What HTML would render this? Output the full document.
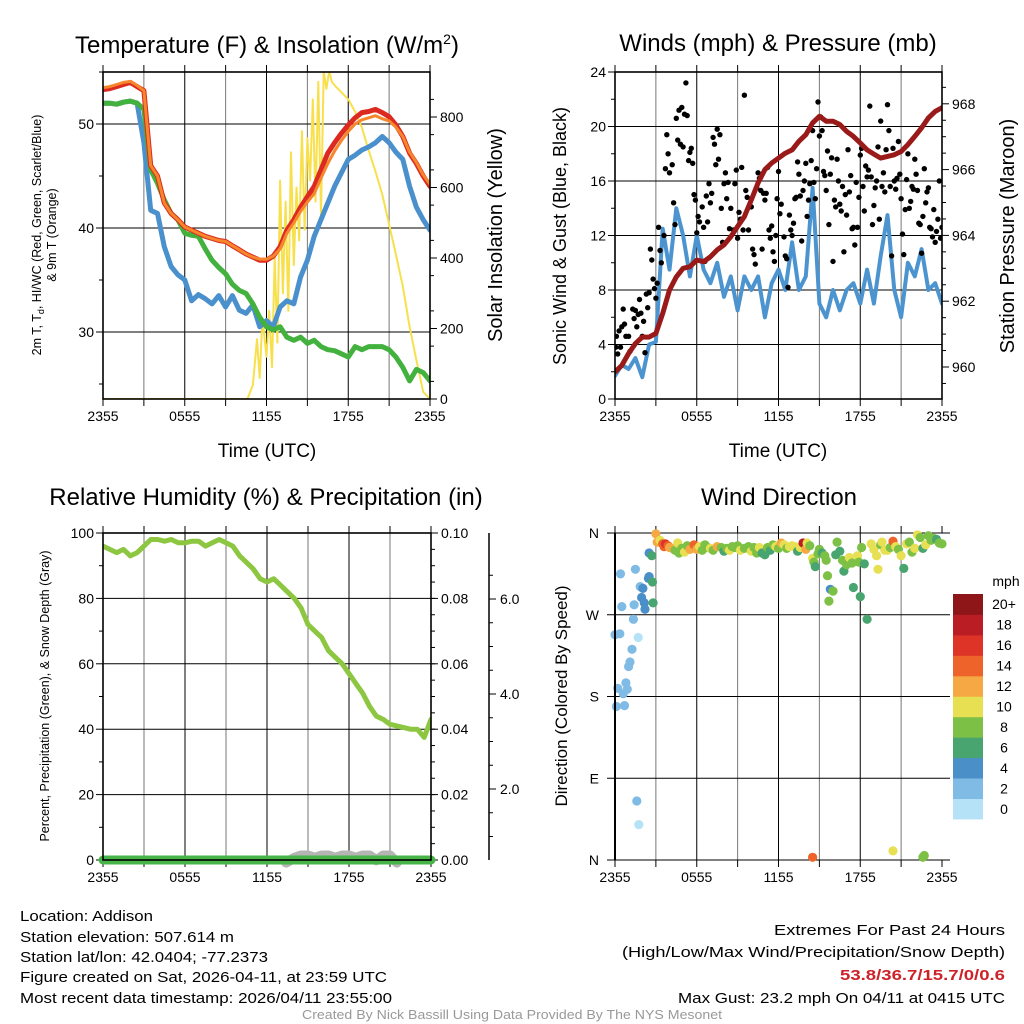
<!DOCTYPE html>
<html><head><meta charset="utf-8"><style>
html,body{margin:0;padding:0;background:#fff;}
svg{display:block;font-family:"Liberation Sans",sans-serif;}
</style></head><body>
<svg id="fig" width="1024" height="1024" viewBox="0 0 1024 1024" xmlns="http://www.w3.org/2000/svg">
<defs>
<clipPath id="c1"><rect x="103" y="72" width="327" height="327"/></clipPath>
<clipPath id="c2"><rect x="615" y="72" width="327" height="327"/></clipPath>
<clipPath id="c3"><rect x="103" y="533" width="328" height="327"/></clipPath>
<clipPath id="c3b"><rect x="95" y="533" width="345" height="335"/></clipPath>
<clipPath id="c4"><rect x="609" y="527" width="339" height="339"/></clipPath>
</defs>
<g id="p1"></g>
<g id="p2"></g>
<g id="p3"></g>
<g id="p4"></g>

<text x="267" y="53" font-size="24" text-anchor="middle">Temperature (F) &amp; Insolation (W/m<tspan font-size="14" dy="-9">2</tspan><tspan dy="9">)</tspan></text>
<text x="778" y="51" font-size="24" text-anchor="middle">Winds (mph) &amp; Pressure (mb)</text>
<text x="266" y="505" font-size="24" text-anchor="middle">Relative Humidity (%) &amp; Precipitation (in)</text>
<text x="779" y="505" font-size="24" text-anchor="middle">Wind Direction</text>

<text x="267" y="457" font-size="19" text-anchor="middle">Time (UTC)</text>
<text x="778" y="457" font-size="19" text-anchor="middle">Time (UTC)</text>

<text transform="translate(41,235) rotate(-90)" font-size="12.5" text-anchor="middle">2m T, T<tspan font-size="9" dy="3">d</tspan><tspan dy="-3">, HI/WC (Red, Green, Scarlet/Blue)</tspan></text>
<text transform="translate(56,235) rotate(-90)" font-size="12.5" text-anchor="middle">&amp; 9m T (Orange)</text>
<text transform="translate(502,235) rotate(-90)" font-size="20" text-anchor="middle">Solar Insolation (Yellow)</text>
<text transform="translate(566,236) rotate(-90)" font-size="18" text-anchor="middle">Sonic Wind &amp; Gust (Blue, Black)</text>
<text transform="translate(1014,236) rotate(-90)" font-size="20" text-anchor="middle">Station Pressure (Maroon)</text>
<text transform="translate(49,696) rotate(-90)" font-size="12.5" text-anchor="middle">Percent, Precipitation (Green), &amp; Snow Depth (Gray)</text>
<text transform="translate(567,696) rotate(-90)" font-size="17" text-anchor="middle">Direction (Colored By Speed)</text>

<g font-size="15">
<text x="20" y="921" textLength="133" lengthAdjust="spacingAndGlyphs">Location: Addison</text>
<text x="20" y="942" textLength="214" lengthAdjust="spacingAndGlyphs">Station elevation: 507.614 m</text>
<text x="20" y="962" textLength="248" lengthAdjust="spacingAndGlyphs">Station lat/lon: 42.0404; -77.2373</text>
<text x="20" y="982" textLength="367" lengthAdjust="spacingAndGlyphs">Figure created on Sat, 2026-04-11, at 23:59 UTC</text>
<text x="20" y="1003" textLength="372" lengthAdjust="spacingAndGlyphs">Most recent data timestamp: 2026/04/11 23:55:00</text>
</g>
<g font-size="15">
<text x="774" y="935" textLength="231" lengthAdjust="spacingAndGlyphs">Extremes For Past 24 Hours</text>
<text x="622" y="957" textLength="383" lengthAdjust="spacingAndGlyphs">(High/Low/Max Wind/Precipitation/Snow Depth)</text>
<text x="840" y="980" textLength="165" lengthAdjust="spacingAndGlyphs" font-weight="bold" fill="#cc2229">53.8/36.7/15.7/0/0.6</text>
<text x="678" y="1003" textLength="327" lengthAdjust="spacingAndGlyphs">Max Gust: 23.2 mph On 04/11 at 0415 UTC</text>
</g>
<text x="302" y="1019" font-size="13" fill="#999" textLength="420" lengthAdjust="spacingAndGlyphs">Created By Nick Bassill Using Data Provided By The NYS Mesonet</text>
</svg>
<script>
// ---------- data ----------
const hours = [];
for (let i = 0; i <= 48; i++) hours.push(i * 0.5);
const xTickLabels = ["2355","0555","1155","1755","2355"];
const tempRed = [53.3,53.4,53.6,53.8,54.0,53.6,53.2,46.0,45.0,42.4,41.4,40.8,40.1,39.8,39.5,39.2,39.0,38.8,38.7,38.3,37.9,37.5,37.2,36.9,36.9,37.3,38.2,39.8,40.8,42.0,43.0,44.0,45.6,47.2,48.2,49.1,49.9,50.6,51.1,51.2,51.4,51.1,50.7,49.9,48.8,47.2,46.2,45.0,44.0];
const temp9m = [53.5,53.6,53.8,54.0,54.1,53.7,53.2,46.0,45.0,42.4,41.4,40.8,40.1,39.8,39.5,39.2,39.0,38.8,38.7,38.3,37.9,37.5,37.2,37.0,37.0,37.3,38.0,39.5,40.5,41.6,42.5,43.3,44.8,46.2,47.4,48.4,49.3,50.0,50.4,50.6,50.8,50.5,50.3,49.7,48.8,47.3,46.3,45.1,44.2];
const tempGreen = [52,52,51.9,52.1,52.2,52.0,51.4,45.6,44.3,42.7,41.4,40.8,39.5,39.3,39.2,38.0,36.9,36.2,35.6,34.6,34.0,33.7,32.7,31.4,30.5,30.2,30.5,29.5,29.2,29.5,28.9,29.2,28.6,28.3,28.2,27.9,27.6,28.6,28.3,28.6,28.6,28.6,28.3,27.6,26.6,25.3,26.4,26.1,25.3];
const tempBlue = [52,52,51.9,52.1,52.2,52.0,48.2,41.7,41.4,38.2,36.3,35.5,35.0,33.0,33.6,33.2,32.7,33.5,32.4,33.5,32.1,31.8,32.6,30.5,31.1,30.5,32.4,33.0,32.7,35.3,36.9,39.2,40.8,42.4,44.0,45.3,46.6,47.0,47.5,47.8,48.2,48.8,48.2,47.3,46.6,44.0,42.0,40.8,39.8];
const insHours = [0,10.6,11,11.3,11.5,11.7,12,12.2,12.4,12.6,12.8,13,13.2,13.4,13.6,13.8,14,14.2,14.4,14.6,14.8,15,15.2,15.4,15.6,15.8,16,16.2,16.4,16.6,16.8,17,17.5,18,18.5,19,19.5,20,20.5,21,21.5,22,22.5,23,23.5,24];
const insValues = [0,0,40,170,60,230,120,250,90,400,160,620,300,560,250,700,380,600,450,760,480,740,620,850,560,900,520,930,880,930,900,890,870,850,815,770,705,645,580,495,410,320,205,110,20,0];
const tempTicks = [30,40,50];
const insTicks = [0,200,400,600,800];

const windSpeed = [1.7,2.5,2.2,3.0,1.6,4.0,4.2,12.5,9.5,14.0,12.0,9.0,12.0,9.5,8.5,10.0,7.5,9.0,6.5,9.0,8.0,9.0,6.0,8.5,9.5,8.0,11.5,8.0,9.0,15.5,7.0,6.0,8.0,6.5,8.0,8.5,7.0,9.5,7.0,10.5,13.5,8.0,6.0,10.0,9.0,11.0,8.0,8.5,7.0];
const pressure = [959.85,960.05,960.41,960.71,960.91,960.91,961.02,961.63,962.34,962.74,963.0,963.05,963.25,963.2,963.35,963.56,963.71,963.96,964.27,964.57,965.08,965.6,966.0,966.2,966.35,966.5,966.6,966.86,967.06,967.42,967.62,967.47,967.47,967.37,967.16,967.01,966.81,966.6,966.47,966.35,966.4,966.45,966.55,966.76,967.01,967.27,967.57,967.77,967.88];
const gustHours = [0.05,0.1,0.2,0.3,0.4,0.5,0.6,0.7,0.8,1.0,1.1,1.3,1.4,1.5,1.6,1.7,1.8,1.9,2.0,2.1,2.2,2.3,2.4,2.5,2.6,2.7,2.8,2.9,3.0,3.1,3.2,3.3,3.4,3.6,3.7,3.8,3.9,4.0,4.2,4.3,4.4,4.5,4.6,4.7,4.8,4.9,5.0,5.1,5.2,5.3,5.4,5.5,5.6,5.7,5.8,5.9,6.0,6.1,6.2,6.4,6.5,6.6,6.7,6.8,6.9,7.0,7.1,7.2,7.3,7.4,7.5,7.6,7.7,7.8,7.9,8.0,8.1,8.2,8.3,8.4,8.5,8.7,8.8,8.9,9.0,9.1,9.2,9.3,9.4,9.5,9.6,9.7,9.8,9.9,10.0,10.1,10.2,10.3,10.4,10.5,10.6,10.7,10.8,10.9,11.0,11.1,11.2,11.3,11.4,11.5,11.6,11.7,11.8,11.9,12.0,12.1,12.2,12.4,12.5,12.6,12.7,12.8,12.9,13.0,13.1,13.2,13.3,13.4,13.5,13.6,13.7,13.8,13.9,14.0,14.1,14.2,14.3,14.4,14.5,14.6,14.7,14.8,14.9,15.0,15.1,15.2,15.3,15.4,15.5,15.6,15.7,15.8,15.9,16.0,16.1,16.2,16.3,16.4,16.5,16.6,16.7,16.8,16.9,17.0,17.1,17.2,17.3,17.4,17.5,17.6,17.7,17.8,17.9,18.0,18.1,18.2,18.3,18.4,18.5,18.6,18.7,18.8,18.9,19.0,19.1,19.2,19.3,19.4,19.5,19.6,19.7,19.8,19.9,20.0,20.1,20.2,20.3,20.4,20.5,20.6,20.7,20.8,20.9,21.0,21.1,21.2,21.3,21.4,21.5,21.6,21.7,21.8,21.9,22.0,22.1,22.2,22.3,22.4,22.5,22.6,22.7,22.8,22.9,23.0,23.1,23.2,23.3,23.4,23.5,23.6,23.7,23.8,23.9,24.0];
const gustValues = [3.8,4.6,3.3,5.0,3.8,5.3,6.6,5.5,4.6,4.6,3.5,6.6,5.9,6.5,5.3,6.2,7.3,6.3,4.6,5.7,3.4,7.7,6.7,7.8,11.0,10.2,8.8,8.1,7.4,8.5,12.6,10.9,10.0,12.0,16.9,19.4,18.0,16.6,17.2,14.4,12.8,20.6,19.0,21.2,18.7,21.4,18.5,20.9,23.2,20.8,17.5,18.1,18.4,17.3,15.0,14.6,12.2,13.4,13.0,14.1,12.6,10.1,14.9,13.0,15.8,14.4,15.1,19.2,18.7,17.2,19.8,17.6,19.4,14.0,11.5,15.8,16.6,14.7,15.9,12.5,14.0,12.4,15.8,16.8,11.8,13.7,13.2,17.0,12.4,22.3,15.3,14.8,12.4,14.2,14.1,11.0,10.6,9.9,15.5,16.6,16.2,15.3,11.0,15.1,14.6,15.1,17.0,12.4,11.8,12.7,10.8,10.1,12.0,14.7,16.7,13.6,14.3,11.9,10.5,10.3,8.2,13.5,12.4,12.0,12.9,14.7,14.8,17.4,16.5,14.9,11.6,15.3,16.0,17.3,13.4,14.6,15.8,17.5,19.7,15.9,14.7,16.9,21.8,19.3,20.7,19.7,16.7,16.4,15.3,18.2,12.8,16.5,17.7,10.1,14.6,14.1,17.6,16.0,14.3,13.8,15.6,10.8,15.0,13.5,18.3,15.2,16.4,12.5,12.6,11.3,15.9,12.6,14.8,17.9,18.4,15.6,13.8,17.1,16.3,16.8,21.5,16.3,12.8,14.2,15.5,16.0,18.5,13.2,20.4,15.6,16.6,15.2,18.3,21.6,19.7,15.6,10.5,18.4,16.0,15.4,16.2,18.9,16.5,14.7,12.1,10.6,13.9,16.1,18.0,14.0,14.5,15.6,15.4,17.6,16.5,15.3,12.9,12.8,10.7,13.4,16.9,14.4,15.2,15.5,12.6,12.5,11.9,13.9,11.5,12.3,13.2,16.0,11.8,12.6];
const windTicks = [0,4,8,12,16,20,24];
const pressureTicks = [960,962,964,966,968];

const humidity = [96,95,94,95,93,94,96,98,98,97.5,98,97,97,97.5,97.5,96,97,98,97,96,93,91,89,86,85,86,84,82,80,77,72,70,68,64,62,60,57,54,51,47,44,43,41.5,41,40.5,40,40,37.5,43,47].slice(0,49);
const precip = hours.map(() => 0);
const snowHours = [13.4,14,14.5,15,15.5,16,16.5,17,17.5,18,18.5,19,19.5,20,20.5,21,21.5];
const snowDepth = [0.45,0.55,0.6,0.6,0.55,0.6,0.6,0.55,0.6,0.6,0.55,0.6,0.6,0.5,0.6,0.6,0.45];
const rhTicks = [0,20,40,60,80,100];
const precipTicks = ["0.00","0.02","0.04","0.06","0.08","0.10"];
const snowTicks = ["2.0","4.0","6.0"];

const dirHours = [0.0,0.1,0.2,0.35,0.4,0.5,0.6,0.7,0.8,0.9,1.0,1.1,1.25,1.35,1.4,1.5,1.6,1.7,1.75,1.85,1.95,2.05,2.15,2.2,2.45,2.5,2.5,2.7,2.75,2.8,3.0,3.1,3.3,3.5,3.6,3.7,3.9,4.0,4.2,4.4,4.6,4.7,4.9,5.1,5.3,5.5,5.8,6.0,6.2,6.4,6.6,6.8,7.0,7.2,7.5,7.8,8.0,8.2,8.4,8.6,8.8,9.0,9.2,9.5,9.8,10.0,10.2,10.4,10.6,10.8,11.0,11.2,11.4,11.6,11.8,12.0,12.2,12.4,12.6,12.8,13.0,13.2,13.4,13.6,13.8,14.0,14.1,14.3,14.5,14.5,14.6,14.7,14.9,15.0,15.2,15.4,15.5,15.6,15.7,15.8,16.0,16.2,16.3,16.5,16.7,16.8,17.0,17.2,17.4,17.5,17.8,17.9,18.0,18.1,18.3,18.5,18.8,19.0,19.2,19.3,19.5,19.6,19.8,20.0,20.2,20.4,20.4,20.6,20.8,21.0,21.2,21.4,21.6,21.8,22.0,22.2,22.4,22.6,22.6,22.7,22.8,23.0,23.2,23.4,23.6,23.8,24.0];
const dirValues = [248,169,189,249,315,279,183,170,195,188,213,218,232,265,281,320,65,245,39,301,289,299,283,276,310,312,338,335,306,283,359,350,352,348,345,348,346,344,343,341,349,338,343,339,346,342,347,342,345,341,347,344,343,341,345,344,340,343,341,345,344,346,341,343,345,340,344,338,344,338,336,344,341,347,345,343,349,347,343,345,346,345,340,344,349,342,349,346,332,3,328,323,337,342,338,335,330,313,285,298,296,336,350,340,330,318,325,333,327,300,335,328,290,344,326,265,348,342,335,320,347,350,341,341,344,351,10,345,342,335,321,348,350,339,343,358,355,343,3,5,347,357,352,354,353,349,348];
const dirSpeed = [2,2,2,2,2,2,2,2,2,2,2,2,2,2,2,2,2,0,0,2,4,4,4,4,4,4,4,6,6,6,12,12,10,14,14,16,14,12,12,8,10,8,8,10,8,12,14,12,10,8,8,8,10,8,12,8,6,8,10,8,8,8,10,8,8,10,8,8,10,6,6,8,6,8,10,8,12,10,8,10,10,10,6,10,18,12,10,8,10,14,8,6,8,8,6,8,8,8,8,4,8,6,8,6,8,6,8,10,8,6,10,8,6,8,6,6,10,10,10,10,8,10,10,10,8,14,10,10,8,10,6,10,8,8,10,10,8,6,8,8,10,8,8,8,6,8,8];
const dirTickLabels = ["N","E","S","W","N"];
const dirTicks = [0,90,180,270,360];
const speedBins = ["0","2","4","6","8","10","12","14","16","18","20+"];
const binColors = ["#b5e2f7","#80bbe5","#4a8fc7","#49a56f","#7cc045","#e7e053","#f5a843","#ee6329","#dd3427","#bb1d25","#8e1619"];

// ---------- helpers ----------
const NS = "http://www.w3.org/2000/svg";
function mk(parent, tag, attrs) {
  const el = document.createElementNS(NS, tag);
  for (const k in attrs) el.setAttribute(k, attrs[k]);
  parent.appendChild(el);
  return el;
}
function pathFrom(xs, ys, fx, fy) {
  return xs.map((h, i) => (i ? "L" : "M") + fx(h).toFixed(1) + "," + fy(ys[i]).toFixed(1)).join("");
}
function timeGrid(g, x0, w, y0, h, xf) {
  for (let k = 0; k <= 8; k++) {
    const x = xf(k * 3);
    const major = k % 2 === 0;
    if (k > 0 && k < 8) {
      const l = mk(g, "line", {x1: x, x2: x, y1: y0, y2: y0 + h, stroke: major ? "#000" : "#777", "stroke-width": 1});
      
      
    }
    const t1 = mk(g, "line", {x1: x, x2: x, y1: y0 - 7, y2: y0, stroke: "#000", "stroke-width": 1});
    
    
    const t2 = mk(g, "line", {x1: x, x2: x, y1: y0 + h, y2: y0 + h + 7, stroke: "#000", "stroke-width": 1});
    
    
    if (major) {
      const tx = mk(g, "text", {x: x, y: y0 + h + 22, "font-size": 14, "text-anchor": "middle"});
      
      
      tx.textContent = xTickLabels[k / 2];
    }
  }
}
function hGrid(g, x0, w, y) {
  const l = mk(g, "line", {x1: x0, x2: x0 + w, y1: y, y2: y, stroke: "#000", "stroke-width": 1});
  
  
}
function tick(g, x, y, len, name) {
  const l = mk(g, "line", {x1: x, x2: x + len, y1: y, y2: y, stroke: "#000", "stroke-width": 1});
  
  
}
function label(g, x, y, txt, anchor, size, name) {
  const t = mk(g, "text", {x: x, y: y + 5, "font-size": size || 14, "text-anchor": anchor});
  
  
  t.textContent = txt;
}
function frame(g, x, y, w, h) {
  const r = mk(g, "rect", {x: x, y: y, width: w, height: h, fill: "none", stroke: "#000", "stroke-width": 1.6});
  
  
}
function series(g, d, color, width, clip, name) {
  const p = mk(g, "path", {d: d, fill: "none", stroke: color, "stroke-width": width, "stroke-linejoin": "round", "stroke-linecap": "round", "clip-path": "url(#" + clip + ")"});
  
  
}

// ---------- panel 1 ----------
(function () {
  const g = document.getElementById("p1");
  const X0 = 103, W = 327, Y0 = 72, H = 327;
  const x = h => X0 + h * W / 24;
  const yT = t => 124 + (50 - t) * 10.4;
  const yI = v => 399 - v * 0.3525;
  timeGrid(g, X0, W, Y0, H, x);
  tempTicks.forEach(t => { hGrid(g, X0, W, yT(t)); tick(g, X0 - 7, yT(t), 7, "temp-tick"); label(g, X0 - 9, yT(t), String(t), "end", 14, "temp-tick-label"); });
  [25, 35, 45, 55].forEach(t => tick(g, X0 - 4, yT(t), 4, "temp-minor-tick"));
  insTicks.forEach(v => { tick(g, X0 + W, yI(v), 7, "insolation-tick"); label(g, X0 + W + 10, yI(v), String(v), "start", 14, "insolation-tick-label"); });
  for (let v = 50; v < 930; v += 100) tick(g, X0 + W, yI(v), 4, "insolation-minor-tick");
  series(g, pathFrom(insHours, insValues, x, yI), "#f8e04c", 2, "c1", "insolation-line");
  series(g, pathFrom(hours, tempBlue, x, yT), "#4a90cc", 5, "c1", "windchill-line");
  series(g, pathFrom(hours, tempGreen, x, yT), "#43b13d", 5, "c1", "dewpoint-line");
  series(g, pathFrom(hours, tempRed, x, yT), "#dc2a20", 5, "c1", "temperature-line");
  series(g, pathFrom(hours, temp9m, x, yT), "#f5862b", 3, "c1", "temperature-9m-line");
  frame(g, X0, Y0, W, H);
})();

// ---------- panel 2 ----------
(function () {
  const g = document.getElementById("p2");
  const X0 = 615, W = 327, Y0 = 72, H = 327;
  const x = h => X0 + h * W / 24;
  const yW = m => 399 - m * 13.625;
  const yP = p => 367 - (p - 960) * 32.9;
  timeGrid(g, X0, W, Y0, H, x);
  windTicks.forEach(m => { if (m > 0 && m < 24) hGrid(g, X0, W, yW(m)); tick(g, X0 - 7, yW(m), 7, "wind-tick"); label(g, X0 - 9, yW(m), String(m), "end", 14, "wind-tick-label"); });
  for (let m = 2; m < 24; m += 4) tick(g, X0 - 4, yW(m), 4, "wind-minor-tick");
  pressureTicks.forEach(p => { tick(g, X0 + W, yP(p), 7, "pressure-tick"); label(g, X0 + W + 10, yP(p), String(p), "start", 14, "pressure-tick-label"); });
  for (let p = 959.5; p < 969; p += 0.5) if (p % 2 !== 0) tick(g, X0 + W, yP(p), 4, "pressure-minor-tick");
  series(g, pathFrom(hours, windSpeed, x, yW), "#4c94d0", 4, "c2", "wind-speed-line");
  gustHours.forEach((h, i) => {
    const c = mk(g, "circle", {cx: x(h).toFixed(1), cy: yW(gustValues[i]).toFixed(1), r: 2.7, fill: "#000", "clip-path": "url(#c2)"});
    
    
  });
  series(g, pathFrom(hours, pressure, x, yP), "#9a1a1a", 5, "c2", "pressure-line");
  frame(g, X0, Y0, W, H);
})();

// ---------- panel 3 ----------
(function () {
  const g = document.getElementById("p3");
  const X0 = 103, W = 328, Y0 = 533, H = 327;
  const x = h => X0 + h * W / 24;
  const yR = r => 860 - r * 3.27;
  const yPr = v => 860 - v * 3270;
  const yS = s => 884 - s * 47.5;
  timeGrid(g, X0, W, Y0, H, x);
  rhTicks.forEach(r => { if (r > 0 && r < 100) hGrid(g, X0, W, yR(r)); tick(g, X0 - 7, yR(r), 7, "rh-tick"); label(g, X0 - 9, yR(r), String(r), "end", 14, "rh-tick-label"); });
  for (let r = 10; r < 100; r += 20) tick(g, X0 - 4, yR(r), 4, "rh-minor-tick");
  precipTicks.forEach(v => { tick(g, X0 + W, yPr(+v), 7, "precip-tick"); label(g, X0 + W + 10, yPr(+v), v, "start", 14, "precip-tick-label"); });
  for (let v = 0.005; v < 0.1; v += 0.005) tick(g, X0 + W, yPr(v), 4, "precip-minor-tick");
  const ax = mk(g, "line", {x1: 489, x2: 489, y1: 533, y2: 860, stroke: "#000", "stroke-width": 1.5});
  
  
  snowTicks.forEach(s => { tick(g, 489, yS(+s), 7, "snow-tick"); label(g, 500, yS(+s), s, "start", 14, "snow-tick-label"); });
  for (let s = 0.5; s < 7; s += 0.5) if (yS(s) > 533 && yS(s) < 860 && s % 2 !== 0) tick(g, 489, yS(s), 4, "snow-minor-tick");
  series(g, pathFrom(snowHours, snowDepth, x, yS), "#b5b5b5", 10, "c3b", "snow-depth-line");
  series(g, pathFrom(hours, precip, x, yPr), "#46b446", 9, "c3b", "precipitation-line");
  series(g, pathFrom(hours, humidity, x, yR), "#8dc640", 5, "c3", "humidity-line");
  frame(g, X0, Y0, W, H);
})();

// ---------- panel 4 ----------
(function () {
  const g = document.getElementById("p4");
  const X0 = 615, W = 327, Y0 = 533, H = 327;
  const x = h => X0 + h * W / 24;
  const yD = d => 860 - d * H / 360;
  timeGrid(g, X0, W, Y0, H, x);
  dirTicks.forEach((d, i) => { hGrid(g, X0 - 8, W + 16, yD(d)); label(g, X0 - 16, yD(d), dirTickLabels[i], "end", 14, "direction-tick-label"); });
  dirHours.forEach((h, i) => {
    const bin = Math.min(10, Math.floor(dirSpeed[i] / 2));
    const c = mk(g, "circle", {cx: x(h).toFixed(1), cy: yD(dirValues[i]).toFixed(1), r: 4.6, fill: binColors[bin], "clip-path": "url(#c4)"});
    
    
  });
  const l = mk(g, "line", {x1: X0, x2: X0, y1: Y0, y2: Y0 + H, stroke: "#000", "stroke-width": 2});
  
  
  const cb = mk(g, "g", {});
  
  
  const bh = 225 / 11;
  speedBins.forEach((s, i) => {
    const j = 10 - i;
    const yb = 594 + j * bh;
    const r = mk(cb, "rect", {x: 953, y: yb.toFixed(1), width: 30, height: (bh + 0.4).toFixed(1), fill: binColors[i]});
    
    
    const t = mk(cb, "text", {x: 1004, y: (yb + bh / 2 + 5).toFixed(1), "font-size": 14, "text-anchor": "middle"});
    
    
    t.textContent = s;
  });
  const m = mk(cb, "text", {x: 1006, y: 586, "font-size": 14, "text-anchor": "middle"});
  
  
  m.textContent = "mph";
})();
</script>
</body></html>
